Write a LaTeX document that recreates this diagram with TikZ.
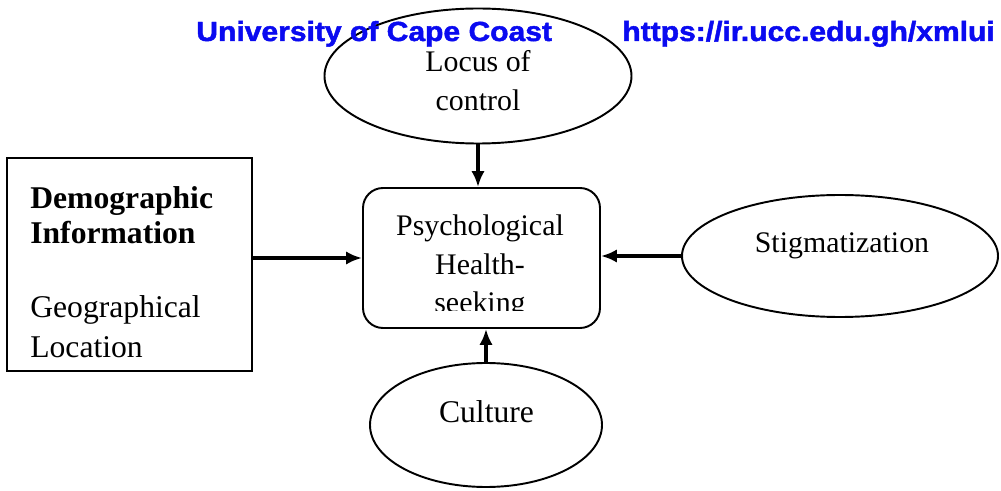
\documentclass[tikz,border=0pt]{standalone}
\usepackage{fontspec}
\usepackage{graphicx}
\setmainfont{Liberation Serif}
\newfontfamily\headfont{Liberation Sans}[BoldFeatures={FakeBold=1.6}]
\usetikzlibrary{shapes.geometric, arrows.meta, calc}
\definecolor{headblue}{RGB}{10,10,240}

\begin{document}
\begin{tikzpicture}[
    bubble/.style={draw, ellipse, line width=1.1pt, inner sep=0pt},
    txt/.style={inner sep=0pt, align=center, font=\fontsize{17}{22}\selectfont},
    arr/.style={-{Latex[length=9pt,width=7.5pt]}, line width=1.9pt},
    head/.style={inner sep=0pt, anchor=base west, text=headblue, font=\headfont\bfseries\fontsize{17.1}{20}\selectfont}
]
    % Frame
    \useasboundingbox (0,0) rectangle (20.02,-9.82);

    % Locus of control
    \node[bubble, minimum width=6.14cm, minimum height=2.7cm] (locus) at (9.56,-1.52) {};
    \node[txt] (locustext) at (9.56,-1.61) {Locus of\\control};

    % Psychological health-seeking (bottom line cut off)
    \node[draw, rounded corners=0.4cm, line width=1.1pt, minimum width=4.74cm, minimum height=2.8cm] (psych) at (9.63,-5.16) {};
    \begin{scope}
        \clip (7.3,-3.8) rectangle (12,-6.22);
        \node[txt] (psychtext) at (9.6,-5.34) {Psychological\\Health-\\seeking};
    \end{scope}

    % Demographic information
    \node[draw, line width=1.4pt, minimum width=4.9cm, minimum height=4.26cm] (demo) at (2.59,-5.29) {};
    \node[inner sep=0pt, anchor=north west, align=left, font=\fontsize{18}{20}\selectfont] (demotext) at (0.6,-3.72)
        {\bfseries Demographic\\\bfseries Information\\[22pt]Geographical\\[2.7pt]Location};

    % Stigmatization
    \node[bubble, minimum width=6.32cm, minimum height=2.44cm] (stig) at (16.8,-5.12) {};
    \node[txt, anchor=base] (stigtext) at (16.84,-5.06) {Stigmatization};

    % Culture
    \node[bubble, minimum width=4.64cm, minimum height=2.48cm] (culture) at (9.72,-8.5) {};
    \node[txt, anchor=base, font=\fontsize{18}{22}\selectfont] (culturetext) at (9.73,-8.46) {Culture};

    % Arrows into the centre
    \draw[arr] (locus.south) -- (locus.south |- psych.north);
    \draw[arr] (demo.east |- psych.west) -- (psych.west);
    \draw[arr] (stig.west) -- (stig.west -| psych.east);
    \draw[arr] (culture.north) -- (culture.north |- psych.south);

    % Header
    \node[head] (uni) at (3.92,-0.82) {\scalebox{1}[0.92]{University of Cape Coast}};
    \node[head] (url) at (12.44,-0.82) {\scalebox{1}[0.92]{https://ir.ucc.edu.gh/xmlui}};
\end{tikzpicture}
\end{document}
